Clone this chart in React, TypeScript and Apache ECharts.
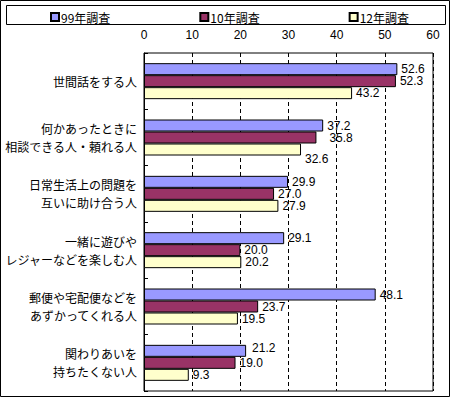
import React, { useEffect, useRef } from "react";
import * as echarts from "echarts";

const categories = [
  "世間話をする人",
  "何かあったときに\n相談できる人・頼れる人",
  "日常生活上の問題を\n互いに助け合う人",
  "一緒に遊びや\nレジャーなどを楽しむ人",
  "郵便や宅配便などを\nあずかってくれる人",
  "関わりあいを\n持ちたくない人",
];
const seriesNames = ["99年調査", "10年調査", "12年調査"];
const values99 = [52.6, 37.2, 29.9, 29.1, 48.1, 21.2];
const values10 = [52.3, 35.8, 27.0, 20.0, 23.7, 19.0];
const values12 = [43.2, 32.6, 27.9, 20.2, 19.5, 9.3];
const colors = ["#9999FF", "#993366", "#FFFFCC"];

// label nudges mimicking the reference's label placement (series, category) -> [dx, dy]
const labelNudges: Record<string, [number, number]> = {
  "1-1": [9, 0],
  "2-1": [0, 9],
  "0-5": [2, -3],
};

const FONT = "'Noto Sans CJK JP', 'Noto Sans', sans-serif";
const NUM_FONT = "'Liberation Sans', Arial, sans-serif";

export default function App() {
  const ref = useRef<HTMLDivElement>(null);
  useEffect(() => {
    document.body.style.margin = "0";
    const chart = echarts.init(ref.current!, null, { renderer: "svg" });
    const all = [values99, values10, values12];
    chart.setOption({
      animation: false,
      backgroundColor: "#ffffff",
      textStyle: { fontFamily: FONT, fontSize: 12, color: "#000" },
      graphic: [
        {
          type: "rect",
          shape: { x: 0.5, y: 0.5, width: 449, height: 396 },
          style: { fill: "none", stroke: "#000", lineWidth: 1 },
          z: 100,
        },
        {
          type: "rect",
          shape: { x: 6.5, y: 5.5, width: 439, height: 19 },
          style: { fill: "none", stroke: "#000", lineWidth: 1 },
          z: 100,
        },
      ],
      legend: {
        left: 45,
        top: 6,
        itemWidth: 8,
        itemHeight: 8,
        itemGap: 89,
        icon: "rect",
        data: seriesNames,
        textStyle: { fontFamily: FONT, fontSize: 12, color: "#000", padding: [0, 0, 0, -3] },
      },
      grid: {
        left: 144,
        right: 17,
        top: 53,
        bottom: 6,
        show: true,
        borderColor: "#000",
        borderWidth: 1,
        containLabel: false,
      },
      xAxis: {
        type: "value",
        position: "top",
        min: 0,
        max: 60,
        interval: 10,
        axisLine: { show: false },
        axisTick: { show: false },
        axisLabel: { margin: 12, fontSize: 12, color: "#000", fontFamily: NUM_FONT },
        splitLine: { show: true, lineStyle: { color: "#000", type: [4, 3], width: 1 } },
      },
      yAxis: {
        type: "category",
        inverse: true,
        data: categories,
        axisLine: { show: true, lineStyle: { color: "#000" } },
        axisTick: { show: true, inside: true, length: 4, lineStyle: { color: "#000" } },
        axisLabel: {
          margin: 7,
          fontSize: 12,
          lineHeight: 18,
          color: "#000",
          fontFamily: FONT,
          align: "right",
        },
      },
      series: seriesNames.map((name, si) => ({
        name,
        type: "bar",
        barWidth: 12,
        barGap: "0%",
        itemStyle: { color: colors[si], borderColor: "#000", borderWidth: 1 },
        label: {
          show: true,
          position: "right",
          distance: 4,
          fontSize: 12,
          lineHeight: 11,
          color: "#000",
          fontFamily: NUM_FONT,
          formatter: (p: any) => Number(p.value).toFixed(1),
        },
        data: all[si].map((v, ci) => {
          const n = labelNudges[`${si}-${ci}`];
          return n ? { value: v, label: { offset: n } } : { value: v };
        }),
      })),
    });
    return () => chart.dispose();
  }, []);
  return <div ref={ref} style={{ width: 450, height: 397 }} />;
}
